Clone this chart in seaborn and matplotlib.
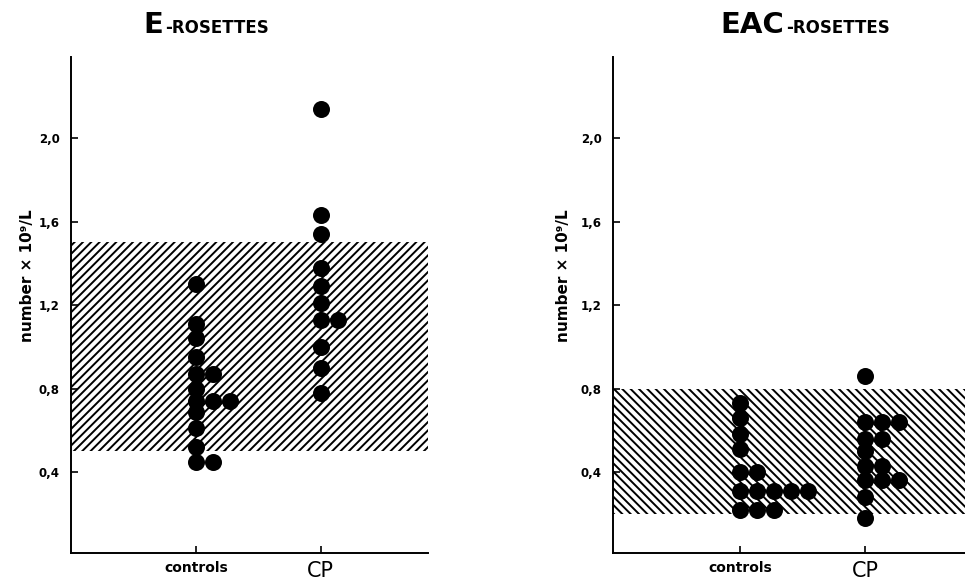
import numpy as np
import pandas as pd
import matplotlib
matplotlib.use("Agg")
import matplotlib.pyplot as plt
import seaborn as sns

# values (x 10^9/L)
groups = ["controls", "CP"]

e_controls = [1.30, 1.11, 1.04, 0.95, 0.87, 0.87, 0.80, 0.74, 0.74, 0.74,
              0.69, 0.61, 0.52, 0.45, 0.45]
e_cp = [2.14, 1.63, 1.54, 1.38, 1.29, 1.21, 1.13, 1.13, 1.00, 0.90, 0.78]

eac_controls = [0.73, 0.66, 0.58, 0.51, 0.40, 0.40, 0.31, 0.31, 0.31, 0.31,
                0.31, 0.22, 0.22, 0.22]
eac_cp = [0.86, 0.64, 0.64, 0.64, 0.56, 0.56, 0.50, 0.43, 0.43, 0.36,
          0.36, 0.36, 0.28, 0.18]

# normal ranges (hatched bands)
e_range = (0.50, 1.50)
eac_range = (0.20, 0.80)

yticks = [0.4, 0.8, 1.2, 1.6, 2.0]
ytick_labels = ["0,4", "0,8", "1,2", "1,6", "2,0"]


def dot_frame(controls, cp, step):
    # stack equal values side by side, like a hand drawn dot plot
    rows = []
    for gi, vals in enumerate([controls, cp]):
        seen = []
        for v in vals:
            slot = sum(1 for s in seen if abs(s - v) < 0.02)
            seen.append(v)
            rows.append({"group": groups[gi], "value": v, "x": gi + slot * step})
    return pd.DataFrame(rows)


sns.set_style("ticks")
plt.rcParams["font.family"] = ["DejaVu Sans"]
plt.rcParams["hatch.linewidth"] = 1.4
plt.rcParams["text.color"] = "black"
plt.rcParams["axes.labelcolor"] = "black"
plt.rcParams["xtick.color"] = "black"
plt.rcParams["ytick.color"] = "black"

fig = plt.figure(figsize=(9.65, 5.82), dpi=100)
ax1 = fig.add_axes([0.0736, 0.0498, 0.370, 0.852])
ax2 = fig.add_axes([0.635, 0.0498, 0.365, 0.852])

panels = [
    (ax1, e_controls, e_cp, e_range, "////", (-1.0, 1.86), -0.10),
    (ax2, eac_controls, eac_cp, eac_range, "\\" * 4, (-1.02, 1.80), -0.12),
]

for ax, ctrl, cp, band, hatch, xlim, lab_x in panels:
    df = dot_frame(ctrl, cp, 0.136)
    ax.axhspan(band[0], band[1], facecolor="white", edgecolor="black",
               hatch=hatch, linewidth=0, zorder=0)
    sns.scatterplot(data=df, x="x", y="value", color="black", s=150,
                    linewidth=0, ax=ax, zorder=3, legend=False)
    ax.set_xlim(*xlim)
    ax.set_ylim(0.012, 2.388)
    ax.set_yticks(yticks)
    ax.set_yticklabels(ytick_labels, fontsize=8.5, fontweight="bold")
    ax.set_xticks([0, 1])
    ax.set_xticklabels(groups)
    tl = ax.get_xticklabels()
    tl[0].set_fontsize(10)
    tl[0].set_fontweight("bold")
    tl[1].set_fontsize(15)
    ax.tick_params(direction="in", length=5, width=1.2, pad=8)
    ax.tick_params(axis="x", pad=6)
    for side in ["top", "right"]:
        ax.spines[side].set_visible(False)
    for side in ["left", "bottom"]:
        ax.spines[side].set_linewidth(1.4)
        ax.spines[side].set_color("black")
    ax.set_xlabel("")
    ax.set_ylabel("number × 10⁹/L", fontsize=11, fontweight="bold")
    ax.yaxis.set_label_coords(lab_x, 0.56)

# titles: large letters + small "-ROSETTES"
for x, big in [(0.169, "E"), (0.813, "EAC")]:
    fig.text(x, 0.943, big, ha="right", va="baseline", fontsize=21,
             fontweight="bold")
    fig.text(x + 0.002, 0.943, "-ROSETTES", ha="left", va="baseline",
             fontsize=12, fontweight="bold")

fig.savefig("out.png", dpi=100)
